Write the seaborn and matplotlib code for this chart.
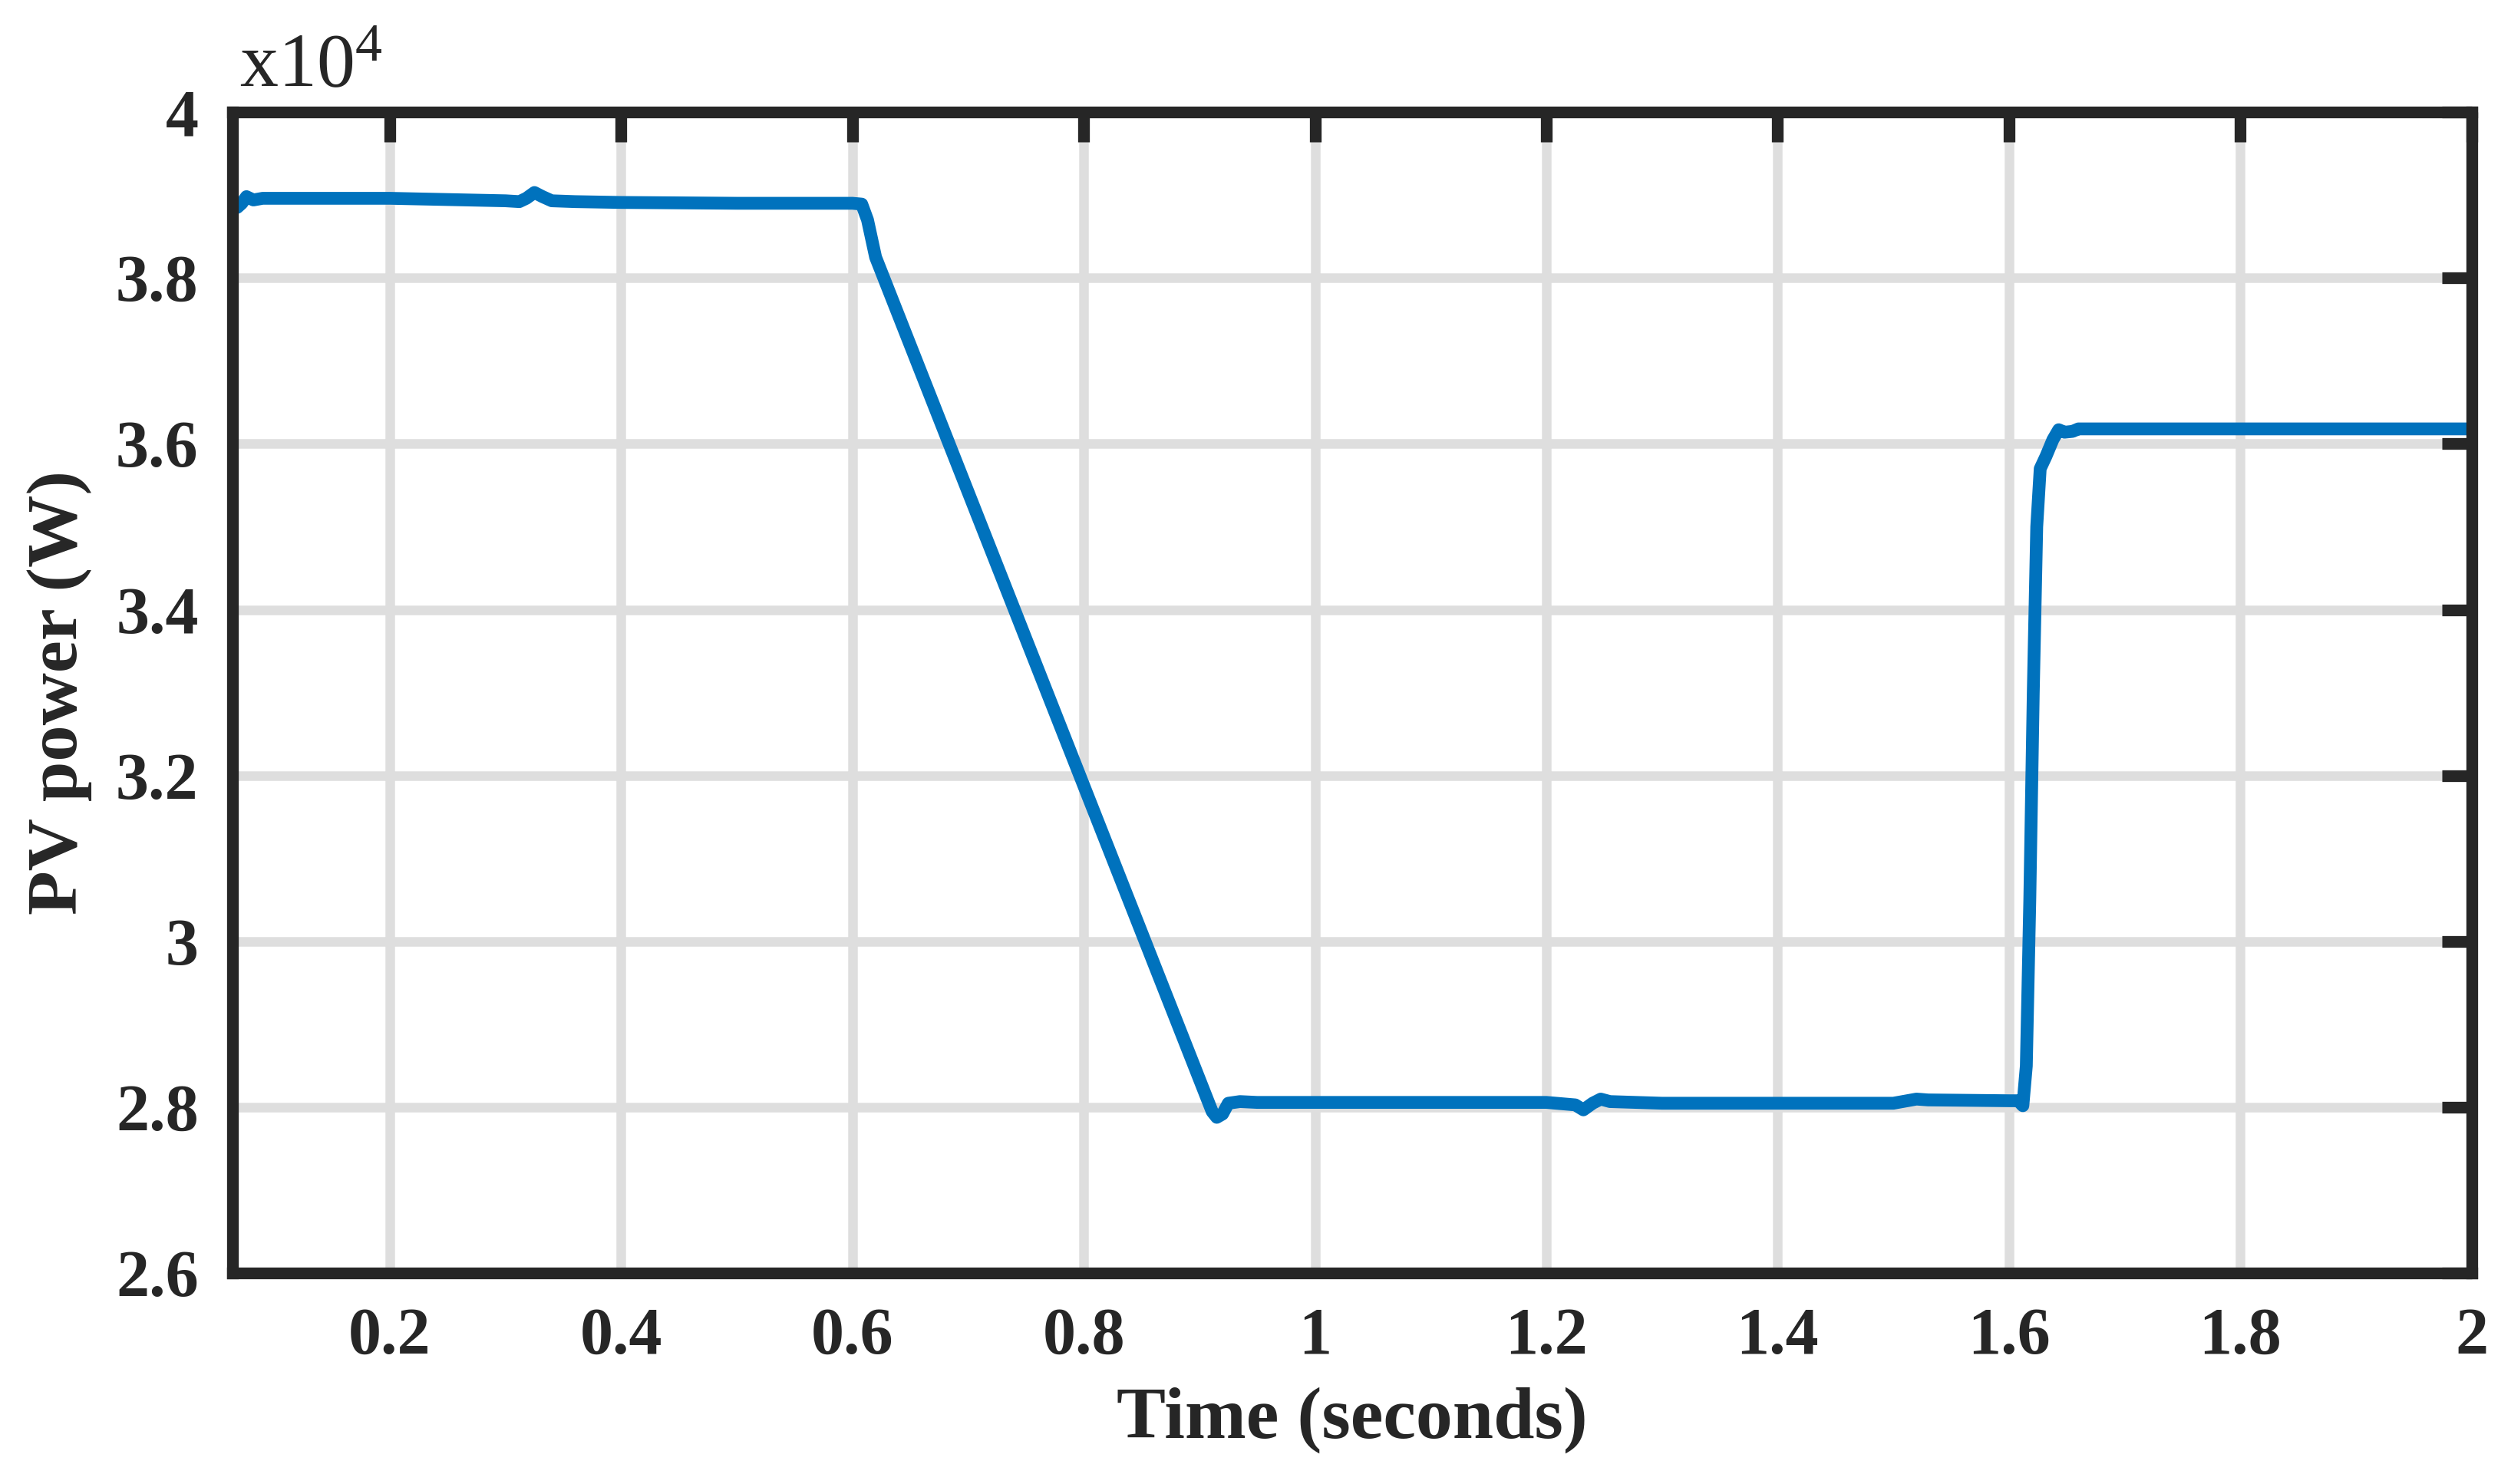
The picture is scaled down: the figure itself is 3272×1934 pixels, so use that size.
import matplotlib
matplotlib.use('Agg')
import matplotlib.pyplot as plt
import seaborn as sns
from matplotlib.ticker import FuncFormatter

# PV power trace (seconds, watts)
time_s = [0.064, 0.068, 0.072, 0.076, 0.082, 0.09, 0.12, 0.2, 0.3, 0.312,
          0.318, 0.325, 0.332, 0.34, 0.36, 0.4, 0.5, 0.6, 0.608, 0.613,
          0.62, 0.911, 0.915, 0.92, 0.925, 0.935, 0.95, 1.0, 1.2, 1.225,
          1.232, 1.24, 1.247, 1.255, 1.3, 1.5, 1.512, 1.52, 1.53, 1.6,
          1.608, 1.612, 1.615, 1.618, 1.621, 1.624, 1.627, 1.632, 1.638,
          1.643, 1.648, 1.655, 1.66, 2.0]
pv_power = [38950, 38850, 38900, 38980, 38940, 38960, 38960, 38960, 38930, 38920,
            38960, 39030, 38980, 38930, 38920, 38910, 38900, 38900, 38890, 38700,
            38250, 27950, 27880, 27920, 28050, 28070, 28060, 28060, 28060, 28030,
            27970, 28050, 28100, 28070, 28050, 28050, 28080, 28100, 28090, 28080,
            28080, 28020, 28500, 30500, 33000, 35000, 35700, 35850, 36050,
            36170, 36140, 36150, 36180, 36180]

x_ticks = [0.2, 0.4, 0.6, 0.8, 1.0, 1.2, 1.4, 1.6, 1.8, 2.0]
y_ticks = [26000, 28000, 30000, 32000, 34000, 36000, 38000, 40000]

sns.set_style('white')
plt.rcParams['font.family'] = ['Liberation Serif', 'DejaVu Serif']
plt.rcParams['font.weight'] = 'bold'
plt.rcParams['mathtext.fontset'] = 'custom'
plt.rcParams['mathtext.rm'] = 'Liberation Serif'

dark = '#262626'
fig = plt.figure(figsize=(32.73, 19.34), dpi=100)
ax = fig.add_axes([0.0926, 0.142, 0.8914, 0.7825])

sns.lineplot(x=time_s, y=pv_power, ax=ax, color='#0072BD', linewidth=12,
             solid_joinstyle='round', zorder=3)

ax.set_xlim(0.064, 2.0)
ax.set_ylim(26000, 40000)
ax.set_xticks(x_ticks)
ax.set_yticks(y_ticks)
ax.xaxis.set_major_formatter(FuncFormatter(lambda v, p: '%g' % v))
ax.yaxis.set_major_formatter(FuncFormatter(lambda v, p: '%g' % (v / 1e4)))

ax.grid(True, color='#dedede', linewidth=9, zorder=0)
ax.set_axisbelow(True)
for s in ax.spines.values():
    s.set_linewidth(11)
    s.set_color(dark)
    s.set_zorder(4)
ax.tick_params(direction='in', length=28, width=11, color=dark,
               top=True, right=True, labelsize=62, labelcolor=dark, pad=32)
for lab in ax.get_xticklabels() + ax.get_yticklabels():
    lab.set_fontweight('bold')

ax.set_xlabel('Time (seconds)', fontsize=69, fontweight='bold', color=dark, labelpad=18)
ax.set_ylabel('PV power (W)', fontsize=68, fontweight='bold', color=dark, labelpad=22)
ax.text(0.003, 1.008, r'$\mathregular{x10^{4}}$', transform=ax.transAxes,
        fontsize=72, color=dark, fontweight='normal', ha='left', va='bottom')

fig.savefig('out.png', dpi=100, facecolor='white')
